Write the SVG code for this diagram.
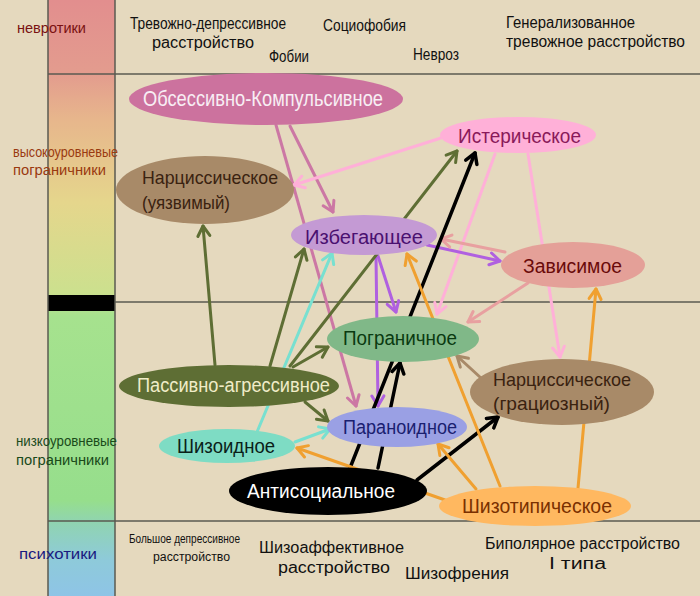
<svg xmlns="http://www.w3.org/2000/svg" width="700" height="596" viewBox="0 0 700 596">
<defs>
<linearGradient id="bar" x1="0" y1="0" x2="0" y2="596" gradientUnits="userSpaceOnUse">
<stop offset="0" stop-color="#E28E8E"/>
<stop offset="0.124" stop-color="#E39C8E"/>
<stop offset="0.2" stop-color="#E7B68C"/>
<stop offset="0.34" stop-color="#E5D68C"/>
<stop offset="0.49" stop-color="#CCE08E"/>
<stop offset="0.53" stop-color="#A6E28E"/>
<stop offset="0.84" stop-color="#96DE8C"/>
<stop offset="0.875" stop-color="#90D4B0"/>
<stop offset="0.94" stop-color="#8ECADA"/>
<stop offset="1" stop-color="#8EC4E6"/>
</linearGradient>
<marker id="aMauve" viewBox="-12 -8 14 16" refX="0" refY="0" markerWidth="14" markerHeight="16" markerUnits="userSpaceOnUse" orient="auto"><path d="M-10,-6 L0,0 L-10,6" fill="none" stroke="#CC77A4" stroke-width="3" stroke-linecap="round" stroke-linejoin="round"/></marker>
<marker id="aPink" viewBox="-12 -8 14 16" refX="0" refY="0" markerWidth="14" markerHeight="16" markerUnits="userSpaceOnUse" orient="auto"><path d="M-10,-6 L0,0 L-10,6" fill="none" stroke="#FFB0D8" stroke-width="3" stroke-linecap="round" stroke-linejoin="round"/></marker>
<marker id="aPurple" viewBox="-12 -8 14 16" refX="0" refY="0" markerWidth="14" markerHeight="16" markerUnits="userSpaceOnUse" orient="auto"><path d="M-10,-6 L0,0 L-10,6" fill="none" stroke="#B060E0" stroke-width="3" stroke-linecap="round" stroke-linejoin="round"/></marker>
<marker id="aSalmon" viewBox="-12 -8 14 16" refX="0" refY="0" markerWidth="14" markerHeight="16" markerUnits="userSpaceOnUse" orient="auto"><path d="M-10,-6 L0,0 L-10,6" fill="none" stroke="#E8A0A0" stroke-width="3" stroke-linecap="round" stroke-linejoin="round"/></marker>
<marker id="aBrown" viewBox="-12 -8 14 16" refX="0" refY="0" markerWidth="14" markerHeight="16" markerUnits="userSpaceOnUse" orient="auto"><path d="M-10,-6 L0,0 L-10,6" fill="none" stroke="#A88A68" stroke-width="3" stroke-linecap="round" stroke-linejoin="round"/></marker>
<marker id="aOlive" viewBox="-12 -8 14 16" refX="0" refY="0" markerWidth="14" markerHeight="16" markerUnits="userSpaceOnUse" orient="auto"><path d="M-10,-6 L0,0 L-10,6" fill="none" stroke="#5E6E34" stroke-width="3" stroke-linecap="round" stroke-linejoin="round"/></marker>
<marker id="aTeal" viewBox="-12 -8 14 16" refX="0" refY="0" markerWidth="14" markerHeight="16" markerUnits="userSpaceOnUse" orient="auto"><path d="M-10,-6 L0,0 L-10,6" fill="none" stroke="#78E0D0" stroke-width="3" stroke-linecap="round" stroke-linejoin="round"/></marker>
<marker id="aBlack" viewBox="-12 -8 14 16" refX="0" refY="0" markerWidth="14" markerHeight="16" markerUnits="userSpaceOnUse" orient="auto"><path d="M-10,-6 L0,0 L-10,6" fill="none" stroke="#000" stroke-width="3.5" stroke-linecap="round" stroke-linejoin="round"/></marker>
<marker id="aOrange" viewBox="-12 -8 14 16" refX="0" refY="0" markerWidth="14" markerHeight="16" markerUnits="userSpaceOnUse" orient="auto"><path d="M-10,-6 L0,0 L-10,6" fill="none" stroke="#F0A030" stroke-width="3" stroke-linecap="round" stroke-linejoin="round"/></marker>
</defs>
<style>
text{font-family:"Liberation Sans","DejaVu Sans",sans-serif;}
.lbl{font-size:20px;}
.lbl2{font-size:19px;}
.top{font-size:16px;fill:#111;}
.side{font-size:14px;}
.c{fill:none;stroke-width:3;stroke-linecap:round;}
.mauve{stroke:#CC77A4;marker-end:url(#aMauve);}
.pink{stroke:#FFB0D8;marker-end:url(#aPink);}
.purple{stroke:#B060E0;marker-end:url(#aPurple);}
.salmon{stroke:#E8A0A0;marker-end:url(#aSalmon);}
.brown{stroke:#A88A68;marker-end:url(#aBrown);}
.olive{stroke:#5E6E34;marker-end:url(#aOlive);}
.teal{stroke:#78E0D0;marker-end:url(#aTeal);}
.black{stroke:#000;stroke-width:3.5;marker-end:url(#aBlack);}
.orange{stroke:#F0A030;marker-end:url(#aOrange);}
</style>
<rect x="0" y="0" width="700" height="596" fill="#E5D9BE"/>
<rect x="48" y="0" width="67" height="596" fill="url(#bar)"/>
<rect x="48" y="295" width="67" height="16" fill="#000"/>
<g stroke="#5A5A50" stroke-width="1.5">
<line x1="48" y1="0" x2="48" y2="596"/>
<line x1="115" y1="0" x2="115" y2="596"/>
<line x1="48" y1="74" x2="700" y2="74"/>
<line x1="115" y1="302" x2="700" y2="302"/>
<line x1="48" y1="521" x2="700" y2="521"/>
</g>
<g id="levels">
<text class="side" x="17" y="33" fill="#7A1212" textLength="69" lengthAdjust="spacingAndGlyphs">невротики</text>
<text class="side" x="13" y="157" fill="#9A3A10" textLength="105" lengthAdjust="spacingAndGlyphs">высокоуровневые</text>
<text class="side" x="13" y="175" fill="#9A3A10" textLength="93" lengthAdjust="spacingAndGlyphs">пограничники</text>
<text class="side" x="16" y="446" fill="#1A4A1A" textLength="101" lengthAdjust="spacingAndGlyphs">низкоуровневые</text>
<text class="side" x="16" y="465" fill="#1A4A1A" textLength="93" lengthAdjust="spacingAndGlyphs">пограничники</text>
<text class="side" x="19" y="559" fill="#1A1A80" textLength="78" lengthAdjust="spacingAndGlyphs">психотики</text>
</g>
<g id="disorders">
<text class="top" x="130" y="29" textLength="156" lengthAdjust="spacingAndGlyphs">Тревожно-депрессивное</text>
<text class="top" x="152" y="48" textLength="102" lengthAdjust="spacingAndGlyphs">расстройство</text>
<text class="top" x="269" y="62" textLength="40" lengthAdjust="spacingAndGlyphs">Фобии</text>
<text class="top" x="323" y="31" textLength="83" lengthAdjust="spacingAndGlyphs">Социофобия</text>
<text class="top" x="413" y="60" textLength="46" lengthAdjust="spacingAndGlyphs">Невроз</text>
<text class="top" x="506" y="28" textLength="129" lengthAdjust="spacingAndGlyphs">Генерализованное</text>
<text class="top" x="506" y="47" textLength="179" lengthAdjust="spacingAndGlyphs">тревожное расстройство</text>
<text x="129" y="543" font-size="12" fill="#111" textLength="111" lengthAdjust="spacingAndGlyphs">Большое депрессивное</text>
<text x="153" y="561" font-size="12" fill="#111" textLength="77" lengthAdjust="spacingAndGlyphs">расстройство</text>
<text class="top" x="259" y="553" textLength="145" lengthAdjust="spacingAndGlyphs">Шизоаффективное</text>
<text class="top" x="278" y="573" textLength="112" lengthAdjust="spacingAndGlyphs">расстройство</text>
<text class="top" x="405" y="579" textLength="104" lengthAdjust="spacingAndGlyphs">Шизофрения</text>
<text class="top" x="485" y="549" textLength="195" lengthAdjust="spacingAndGlyphs">Биполярное расстройство</text>
<text class="top" x="549" y="569" textLength="57" lengthAdjust="spacingAndGlyphs">I типа</text>
</g>
<g id="connectors">
<line class="c mauve" x1="276" y1="125" x2="356" y2="406"/>
<line class="c mauve" x1="290" y1="126" x2="333" y2="212"/>
<line class="c pink" x1="441" y1="138" x2="294" y2="185"/>
<line class="c pink" x1="495" y1="154" x2="437" y2="314"/>
<line class="c pink" x1="528" y1="154" x2="560" y2="357"/>
<line class="c purple" x1="427" y1="245" x2="500" y2="261"/>
<line class="c purple" x1="378" y1="256" x2="396" y2="312"/>
<line class="c purple" x1="376" y1="256" x2="378" y2="406"/>
<line class="c salmon" x1="505" y1="252" x2="441" y2="239"/>
<line class="c salmon" x1="528" y1="283" x2="468" y2="322"/>
<line class="c brown" x1="481" y1="378" x2="457" y2="356"/>
<line class="c olive" x1="215" y1="365" x2="203" y2="226"/>
<line class="c olive" x1="270" y1="366" x2="304" y2="249"/>
<line class="c olive" x1="290" y1="366" x2="457" y2="151"/>
<line class="c olive" x1="293" y1="367" x2="328" y2="347"/>
<line class="c olive" x1="305" y1="402" x2="328" y2="421"/>
<line class="c teal" x1="257" y1="432" x2="332" y2="253"/>
<line class="c teal" x1="295" y1="442" x2="330" y2="429"/>
<line class="c black" x1="350" y1="468" x2="475" y2="153"/>
<line class="c black" x1="378" y1="468" x2="400" y2="363"/>
<line class="c black" x1="417" y1="480" x2="498" y2="417"/>
<line class="c orange" x1="445" y1="500" x2="297" y2="448"/>
<line class="c orange" x1="476" y1="489" x2="438" y2="444"/>
<line class="c orange" x1="500" y1="486" x2="407" y2="254"/>
<line class="c orange" x1="578" y1="488" x2="596" y2="289"/>
</g>
<g id="obsessive">
<ellipse cx="266" cy="99" rx="137" ry="26" fill="#CC729E"/>
<text x="143" y="106" fill="#F8EEF4" font-size="22" textLength="240" lengthAdjust="spacingAndGlyphs">Обсессивно-Компульсивное</text>
</g>
<g id="histrionic">
<ellipse cx="518" cy="135" rx="78" ry="18" fill="#FFB0D8"/>
<text class="lbl" x="458" y="143" fill="#8A1A5A" textLength="123" lengthAdjust="spacingAndGlyphs">Истерическое</text>
</g>
<g id="narcissistic-vulnerable">
<ellipse cx="205" cy="190" rx="89" ry="34" fill="#A88A68"/>
<text class="lbl2" x="142" y="184" fill="#3A2210" textLength="136" lengthAdjust="spacingAndGlyphs">Нарциссическое</text>
<text class="lbl2" x="142" y="209" fill="#3A2210" textLength="88" lengthAdjust="spacingAndGlyphs">(уязвимый)</text>
</g>
<g id="avoidant">
<ellipse cx="364" cy="235" rx="73" ry="20" fill="#C49AD4"/>
<text class="lbl" x="305" y="244" fill="#4A1070" textLength="118" lengthAdjust="spacingAndGlyphs">Избегающее</text>
</g>
<g id="dependent">
<ellipse cx="573" cy="265" rx="72" ry="23" fill="#E4A098"/>
<text class="lbl" x="523" y="273" fill="#6A0A0A" textLength="99" lengthAdjust="spacingAndGlyphs">Зависимое</text>
</g>
<g id="borderline">
<ellipse cx="403" cy="339" rx="76" ry="23" fill="#80B888"/>
<text class="lbl" x="343" y="345" fill="#0A3A10" textLength="114" lengthAdjust="spacingAndGlyphs">Пограничное</text>
</g>
<g id="narcissistic-grandiose">
<ellipse cx="562" cy="392" rx="92" ry="33" fill="#A88A68"/>
<text class="lbl2" x="493" y="386" fill="#3A2210" textLength="138" lengthAdjust="spacingAndGlyphs">Нарциссическое</text>
<text class="lbl2" x="493" y="410" fill="#3A2210" textLength="117" lengthAdjust="spacingAndGlyphs">(грациозный)</text>
</g>
<g id="passive-aggressive">
<ellipse cx="229" cy="386" rx="110" ry="21" fill="#5E6E34"/>
<text class="lbl" x="137" y="392" fill="#F0ECC8" textLength="193" lengthAdjust="spacingAndGlyphs">Пассивно-агрессивное</text>
</g>
<g id="paranoid">
<ellipse cx="397" cy="427" rx="70" ry="20" fill="#9AA0E4"/>
<text class="lbl" x="343" y="434" fill="#1A2070" textLength="114" lengthAdjust="spacingAndGlyphs">Параноидное</text>
</g>
<g id="schizoid">
<ellipse cx="227" cy="446" rx="68" ry="17" fill="#7EDCC4"/>
<text class="lbl" x="177" y="453" fill="#0A2018" textLength="98" lengthAdjust="spacingAndGlyphs">Шизоидное</text>
</g>
<g id="antisocial">
<ellipse cx="328" cy="491" rx="99" ry="24" fill="#000"/>
<text class="lbl" x="247" y="498" fill="#FFFFFF" textLength="148" lengthAdjust="spacingAndGlyphs">Антисоциальное</text>
</g>
<g id="schizotypal">
<ellipse cx="535" cy="506" rx="96" ry="20" fill="#FFB860"/>
<text class="lbl" x="462" y="513" fill="#7A3000" textLength="150" lengthAdjust="spacingAndGlyphs">Шизотипическое</text>
</g>
</svg>
